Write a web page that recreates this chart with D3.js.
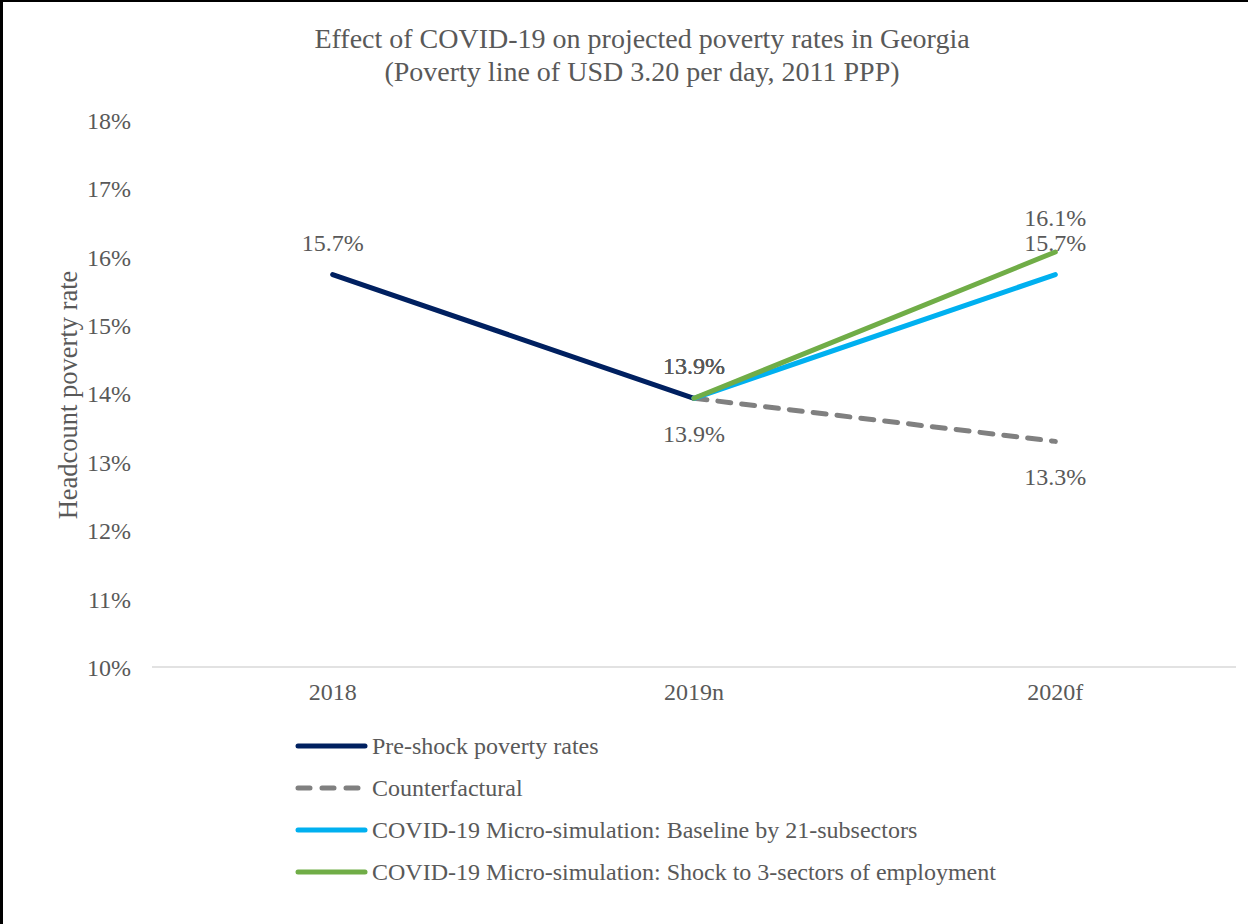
<!DOCTYPE html>
<html>
<head>
<meta charset="utf-8">
<script src="https://cdn.jsdelivr.net/npm/d3@7/dist/d3.min.js"></script>
<style>
  html, body { margin: 0; padding: 0; background: #fff; }
  svg { display: block; }
  text { font-family: "Liberation Serif", "Times New Roman", serif; fill: #595959; }
</style>
</head>
<body>
<svg id="chart" width="1248" height="924"></svg>
<script>
// Categories and series (headcount poverty rate, %)
const years = ["2018", "2019n", "2020f"];
const preShock = [15.74, 13.93, null];
const counterfactual = [null, 13.93, 13.30];
const baseline21 = [null, 13.93, 15.74];
const shock3 = [null, 13.93, 16.07];
const yTicks = [10, 11, 12, 13, 14, 15, 16, 17, 18];

const seriesList = [
  { name: "Pre-shock poverty rates", values: preShock, color: "#002060", dash: null, labelOff: -32, labelColor: "#505050" },
  { name: "Counterfactural", values: counterfactual, color: "#808080", dash: "13,11", labelOff: 35, labelColor: "#595959" },
  { name: "COVID-19 Micro-simulation: Baseline by 21-subsectors", values: baseline21, color: "#00b0f0", dash: null, labelOff: -32, labelColor: "#595959" },
  { name: "COVID-19 Micro-simulation: Shock to 3-sectors of employment", values: shock3, color: "#70ad47", dash: null, labelOff: -34, labelColor: "#404040" }
];

const svg = d3.select("#chart");
const W = 1248, H = 924;
const plot = { left: 152, right: 1236, top: 120, bottom: 667 };
const FS = 24;

// Frame
svg.append("rect").attr("x", 1.5).attr("y", 0.5).attr("width", W + 10).attr("height", H + 10)
  .attr("fill", "none").attr("stroke", "#000").attr("stroke-width", 3);

const x = d3.scaleBand().domain(years).range([plot.left, plot.right]).paddingInner(0).paddingOuter(0);
const y = d3.scaleLinear().domain([10, 18]).range([plot.bottom, plot.top]);
const cx = d => x(d) + x.bandwidth() / 2;

// Title
const title = svg.append("text").attr("text-anchor", "middle").attr("font-size", 28);
title.append("tspan").attr("x", 642).attr("y", 48).text("Effect of COVID-19 on projected poverty rates in Georgia");
title.append("tspan").attr("x", 642).attr("y", 81).text("(Poverty line of USD 3.20 per day, 2011 PPP)");

// Y axis (labels only)
const yAxis = d3.axisLeft(y).tickValues(yTicks).tickFormat(d => d + "%").tickSize(0).tickPadding(0);
const yG = svg.append("g").attr("transform", `translate(131,0)`).call(yAxis);
yG.select(".domain").remove();
yG.selectAll("text").attr("font-size", FS).attr("fill", "#595959")
  .style("font-family", '"Liberation Serif", serif').attr("dy", "0.35em");

// Baseline at the bottom of the plot
svg.append("line").attr("x1", plot.left).attr("x2", plot.right)
  .attr("y1", y(10)).attr("y2", y(10)).attr("stroke", "#d9d9d9").attr("stroke-width", 1.5);

// X axis labels
const xAxis = d3.axisBottom(x).tickSize(0).tickPadding(0);
const xG = svg.append("g").attr("transform", `translate(0,${plot.bottom + 25})`).call(xAxis);
xG.select(".domain").remove();
xG.selectAll("text").attr("font-size", FS).attr("fill", "#595959")
  .style("font-family", '"Liberation Serif", serif').attr("dy", "0.35em");

// Y axis title
svg.append("text").attr("transform", `translate(77,${395}) rotate(-90)`)
  .attr("text-anchor", "middle").attr("font-size", 26.5).text("Headcount poverty rate");

// Lines
const line = d3.line()
  .defined(d => d.v !== null)
  .x(d => cx(d.year))
  .y(d => y(d.v));

const fmt = d3.format(".1f");

seriesList.forEach(s => {
  const pts = years.map((yr, i) => ({ year: yr, v: s.values[i] }));
  svg.append("path").datum(pts)
    .attr("d", line)
    .attr("fill", "none")
    .attr("stroke", s.color)
    .attr("stroke-width", 5)
    .attr("stroke-linecap", "round")
    .attr("stroke-linejoin", "round")
    .attr("stroke-dasharray", s.dash);
});

// Data labels; the shared 2019n point of the solid series stacks its labels in one place
seriesList.forEach(s => {
  years.forEach((yr, i) => {
    const v = s.values[i];
    if (v === null) return;
    const off = (s.labelOff < 0 && yr === "2019n") ? -33 : s.labelOff;
    svg.append("text")
      .attr("x", cx(yr)).attr("y", y(v) + off)
      .attr("text-anchor", "middle").attr("dy", "0.35em")
      .attr("font-size", FS)
      .attr("fill", s.labelColor)
      .text(fmt(v) + "%");
  });
});

// Legend
const legend = svg.append("g");
seriesList.forEach((s, i) => {
  const ly = 746 + i * 42;
  legend.append("line").attr("x1", 298).attr("x2", 365).attr("y1", ly).attr("y2", ly)
    .attr("stroke", s.color).attr("stroke-width", 5).attr("stroke-linecap", "round")
    .attr("stroke-dasharray", s.dash ? "12,12" : null);
  legend.append("text").attr("x", 372).attr("y", ly).attr("dy", "0.35em")
    .attr("font-size", FS).text(s.name);
});
</script>
</body>
</html>
